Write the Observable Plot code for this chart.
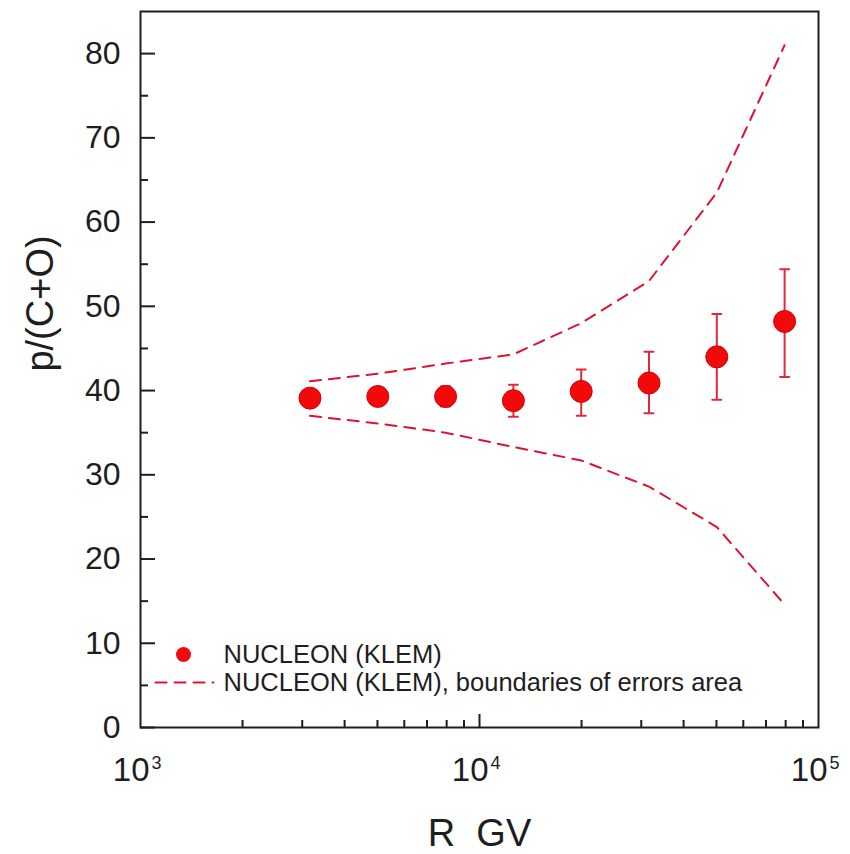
<!DOCTYPE html>
<html>
<head>
<meta charset="utf-8">
<script src="https://cdn.jsdelivr.net/npm/d3@7"></script>
<script src="https://cdn.jsdelivr.net/npm/@observablehq/plot@0.6"></script>
<style>
  html, body { margin: 0; padding: 0; background: #ffffff; }
</style>
</head>
<body>
<div id="chart"></div>
<script>
// ---- data ----
const rigidity = [3162, 5012, 7943, 12589, 19953, 31623, 50119, 79433];      // R, GV
const ratio    = [39.1, 39.3, 39.3, 38.8, 39.9, 40.9, 44.0, 48.2];         // p/(C+O)
const errUp    = [0.9, 1.0, 1.2, 1.9, 2.6, 3.7, 5.1, 6.2];
const errDown  = [0.9, 1.0, 1.2, 1.9, 2.9, 3.6, 5.1, 6.6];
const bandUpper = [41.1, 42.0, 43.2, 44.3, 48.0, 53.0, 63.5, 81.0];
const bandLower = [37.0, 36.1, 35.0, 33.3, 31.7, 28.6, 23.8, 14.6];

const yMajor = [0, 10, 20, 30, 40, 50, 60, 70, 80];
const yMinor = [5, 15, 25, 35, 45, 55, 65, 75];
const xMajor = [1e3, 1e4, 1e5];
const xExp   = ["3", "4", "5"];
const xMinor = [2e3, 3e3, 4e3, 5e3, 6e3, 7e3, 8e3, 9e3, 2e4, 3e4, 4e4, 5e4, 6e4, 7e4, 8e4, 9e4];

const legendLabels = ["NUCLEON (KLEM)", "NUCLEON (KLEM), boundaries of errors area"];
const xTitle = "R\u00a0 GV";
const yTitle = "p/(C+O)";

// ---- derived tables ----
const points = rigidity.map((r, i) => ({r, v: ratio[i], hi: ratio[i] + errUp[i], lo: ratio[i] - errDown[i]}));
const band = rigidity.map((r, i) => ({r, up: bandUpper[i], lo: bandLower[i]}));

const ptColor = "#f20a0a";
const errColor = "#e4283a";
const dashColor = "#dd1430";
const ink = "#1e1e1e";

const lineShape = {draw(ctx, l) { ctx.moveTo(0, 0); ctx.lineTo(0, -l); }};
const noText = () => "";

const chart = Plot.plot({
  width: 850,
  height: 854,
  marginLeft: 140,
  marginRight: 32,
  marginTop: 11,
  marginBottom: 127,
  x: {type: "log", domain: [1e3, 1e5]},
  y: {domain: [0, 85]},
  style: {fontFamily: "'Liberation Sans', Arial, Helvetica, sans-serif", background: "#ffffff", color: ink},
  marks: [
    // y axis labels and inward ticks
    Plot.axisY({ticks: yMajor, tickSize: 0, tickPadding: 20, fontSize: 32, fill: ink, label: null, tickFormat: d => String(d)}),
    Plot.axisY({ticks: yMajor, tickSize: -15, tickFormat: noText, label: null, stroke: ink, strokeWidth: 2}),
    Plot.axisY({ticks: yMinor, tickSize: -8, tickFormat: noText, label: null, stroke: ink, strokeWidth: 2}),
    // x axis inward ticks
    Plot.axisX({ticks: xMinor, tickSize: -7, tickFormat: noText, label: null, stroke: ink, strokeWidth: 2}),
    Plot.axisX({ticks: [1e4], tickSize: -13, tickFormat: noText, label: null, stroke: ink, strokeWidth: 2}),
    // x tick labels 10^n
    Plot.text(xMajor, {x: d => d, frameAnchor: "bottom", lineAnchor: "bottom", textAnchor: "end", dx: 9, dy: 53, text: () => "10", fontSize: 33, fill: ink}),
    Plot.text(xMajor, {x: d => d, frameAnchor: "bottom", lineAnchor: "bottom", textAnchor: "start", dx: 11, dy: 41, text: (d, i) => xExp[i], fontSize: 18, fill: ink}),
    // axis titles
    Plot.text([xTitle], {frameAnchor: "bottom", lineAnchor: "bottom", textAnchor: "middle", dy: 118, fontSize: 38, fill: ink}),
    Plot.text([yTitle], {frameAnchor: "left", textAnchor: "middle", lineAnchor: "middle", rotate: -90, dx: -100, dy: -66, fontSize: 38, fill: ink}),
    // error area boundaries
    Plot.line(band, {x: "r", y: "up", stroke: dashColor, strokeWidth: 2, strokeDasharray: "11,8"}),
    Plot.line(band, {x: "r", y: "lo", stroke: dashColor, strokeWidth: 2, strokeDasharray: "11,8"}),
    // error bars
    Plot.ruleX(points, {x: "r", y1: "lo", y2: "hi", stroke: errColor, strokeWidth: 2}),
    Plot.vector(points, {x: "r", y: "hi", rotate: 90, length: 9, anchor: "middle", shape: lineShape, stroke: errColor, strokeWidth: 2}),
    Plot.vector(points, {x: "r", y: "lo", rotate: 90, length: 9, anchor: "middle", shape: lineShape, stroke: errColor, strokeWidth: 2}),
    // data points
    Plot.dot(points, {x: "r", y: "v", r: 11, fill: ptColor, stroke: "#d4000c", strokeWidth: 1}),
    // legend
    Plot.dot([legendLabels[0]], {frameAnchor: "bottom-left", dx: 43, dy: -73, r: 7.5, fill: ptColor}),
    Plot.vector([legendLabels[1]], {frameAnchor: "bottom-left", dx: 15, dy: -45, rotate: 90, length: 58, anchor: "start", shape: lineShape, stroke: dashColor, strokeWidth: 2, strokeDasharray: "11,8"}),
    Plot.text([legendLabels[0]], {frameAnchor: "bottom-left", dx: 83, dy: -73, textAnchor: "start", lineAnchor: "middle", fontSize: 25.5, fill: ink}),
    Plot.text([legendLabels[1]], {frameAnchor: "bottom-left", dx: 83, dy: -45, textAnchor: "start", lineAnchor: "middle", fontSize: 25.5, fill: ink}),
    // frame
    Plot.frame({stroke: ink, strokeWidth: 2})
  ]
});

document.getElementById("chart").appendChild(chart);
</script>
</body>
</html>
